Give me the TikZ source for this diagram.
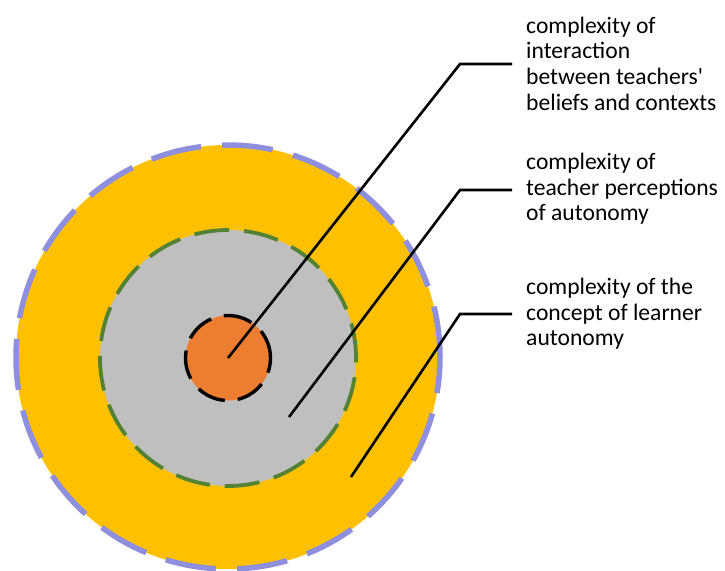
\documentclass[tikz,border=0pt]{standalone}
\usepackage{fontspec}
\setmainfont{Carlito}
\definecolor{ringyellow}{HTML}{FFC000}
\definecolor{ringgray}{HTML}{BFBFBF}
\definecolor{coreorange}{HTML}{ED7D31}
\definecolor{ringgreen}{HTML}{548235}
\definecolor{ringlav}{HTML}{8F8FDF}
\begin{document}
\begin{tikzpicture}[x=1pt,y=-1pt,
  ring/.style={circle,inner sep=0pt,outer sep=0pt},
  lead/.style={draw=black,line width=2.6pt},
  lbl/.style={anchor=west,inner sep=0pt,align=left,font=\fontsize{23.6}{25.7}\selectfont}]
\useasboundingbox (0,0) rectangle (725,570);
\node[ring,fill=ringyellow,draw=ringlav,line width=5.5pt,dash pattern=on 51pt off 21pt,minimum size=424pt] (outer) at (228,357) {};
\node[ring,fill=ringgray,draw=ringgreen,line width=3.8pt,dash pattern=on 35pt off 15pt,minimum size=256pt] (middle) at (228,358) {};
\node[ring,fill=coreorange,draw=black,line width=3.4pt,dash pattern=on 29pt off 13pt,minimum size=85pt] (inner) at (228,358) {};
\node[lbl] (l1) at (526,63.5) {complexity of\\interaction\\between teachers\textquotesingle\\beliefs and contexts};
\node[lbl] (l2) at (526,189) {complexity of\\teacher perceptions\\of autonomy};
\node[lbl] (l3) at (526,314) {complexity of the\\concept of learner\\autonomy};
\coordinate (s2) at (289,417);
\coordinate (s3) at (351,477);
\coordinate (e1) at (460,64);
\coordinate (e2) at (460,190);
\coordinate (e3) at (460,314);
\draw[lead] (inner.center) -- (e1) -- ([xshift=-14pt]l1.west |- e1);
\draw[lead] (s2) -- (e2) -- ([xshift=-14pt]l2.west |- e2);
\draw[lead] (s3) -- (e3) -- ([xshift=-14pt]l3.west |- e3);
\end{tikzpicture}
\end{document}
